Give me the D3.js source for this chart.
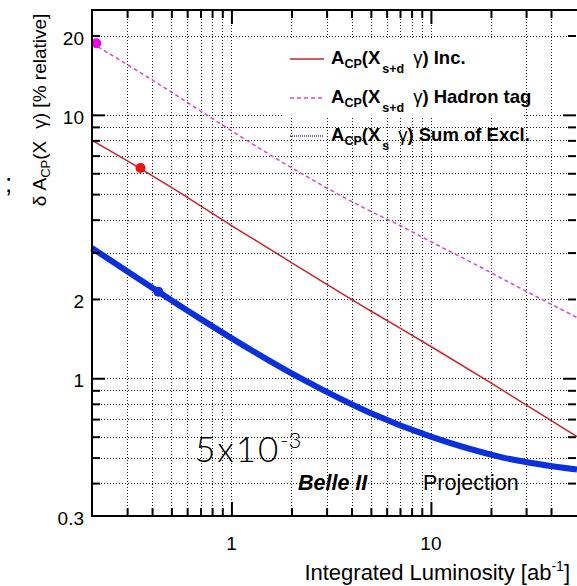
<!DOCTYPE html>
<html>
<head>
<meta charset="utf-8">
<script src="https://cdn.jsdelivr.net/npm/d3@7"></script>
<style>
  body { margin: 0; background: #fff; }
  #root { width: 577px; height: 586px; }
  text { font-family: "Liberation Sans", Arial, Helvetica, sans-serif; }
</style>
</head>
<body>
<div id="root"></div>
<script>
// A_CP(X_s+d gamma) inclusive
const incLumi = [0.2, 0.35, 0.5, 1, 2, 5, 10, 20, 54];
const incErr = [8.0, 6.25, 5.3, 3.8, 2.75, 1.8, 1.32, 0.96, 0.6];

// A_CP(X_s+d gamma) hadron tag
const tagLumi = [0.2, 0.5, 0.75, 1, 2, 5, 7, 10, 16, 28, 54];
const tagErr = [18.7, 12.2, 10, 8.7, 6.3, 4.3, 3.8, 3.3, 2.75, 2.2, 1.7];

// A_CP(X_s gamma) sum of exclusive
const exclLumi = [0.2, 0.3, 0.43, 0.7, 1, 2.28, 4.94, 10, 23, 54];
const exclErr = [3.12, 2.55, 2.13, 1.68, 1.42, 0.99, 0.74, 0.6, 0.5, 0.45];

// current-point markers
const markLumi = [0.21, 0.35, 0.43];
const markErr = [18.7, 6.28, 2.13];
const markColor = ['#ee00ee', '#ee1111', '#1030dd'];

const xMajor = [1, 10];
const xMinor = [0.3, 0.4, 0.5, 0.6, 0.7, 0.8, 0.9, 2, 3, 4, 5, 6, 7, 8, 9, 20, 30, 40];
const yMajor = [1, 10];
const yMinor = [0.4, 0.5, 0.6, 0.7, 0.8, 0.9, 2, 3, 4, 5, 6, 7, 8, 9, 20];
const yLabels = [0.3, 1, 2, 10, 20];
const xLabels = [1, 10];

const W = 577, H = 586;
const plotLeft = 92, plotRight = 577, plotTop = 10, plotBottom = 516;

const container = d3.select('#root');
const svg = container.append('svg')
  .attr('width', W)
  .attr('height', H);

const x = d3.scaleLog().domain([0.2, 54]).range([plotLeft, plotRight]);
const y = d3.scaleLog().domain([0.3, 25]).range([plotBottom, plotTop]);

// grid
const grid = svg.append('g')
  .attr('stroke', '#222')
  .attr('stroke-width', 1)
  .attr('stroke-dasharray', '1,2');

grid.selectAll('.gx')
  .data(xMajor.concat(xMinor))
  .enter()
  .append('line')
    .attr('class', 'gx')
    .attr('x1', (d) => Math.round(x(d)) + 0.5)
    .attr('x2', (d) => Math.round(x(d)) + 0.5)
    .attr('y1', plotTop)
    .attr('y2', plotBottom);

grid.selectAll('.gy')
  .data(yMajor.concat(yMinor))
  .enter()
  .append('line')
    .attr('class', 'gy')
    .attr('y1', (d) => Math.round(y(d)) + 0.5)
    .attr('y2', (d) => Math.round(y(d)) + 0.5)
    .attr('x1', plotLeft)
    .attr('x2', plotRight);

// legend background covering the grid
svg.append('rect')
  .attr('x', 284)
  .attr('y', 38)
  .attr('width', 240)
  .attr('height', 80)
  .attr('fill', '#fff');

// curves
const line = d3.line()
  .x((d) => x(d[0]))
  .y((d) => y(d[1]))
  .curve(d3.curveMonotoneX);

const plot = svg.append('g');

plot.append('path')
  .datum(d3.zip(tagLumi, tagErr))
  .attr('d', line)
  .attr('fill', 'none')
  .attr('stroke', '#d54ad5')
  .attr('stroke-width', 1.5)
  .attr('stroke-dasharray', '4,3');

plot.append('path')
  .datum(d3.zip(incLumi, incErr))
  .attr('d', line)
  .attr('fill', 'none')
  .attr('stroke', '#c4262b')
  .attr('stroke-width', 1.5);

plot.append('path')
  .datum(d3.zip(exclLumi, exclErr))
  .attr('d', line)
  .attr('fill', 'none')
  .attr('stroke', '#0a2fdc')
  .attr('stroke-width', 6);

plot.selectAll('.mark')
  .data(d3.zip(markLumi, markErr, markColor))
  .enter()
  .append('circle')
    .attr('class', 'mark')
    .attr('cx', (d) => x(d[0]))
    .attr('cy', (d) => y(d[1]))
    .attr('r', 5)
    .attr('fill', (d) => d[2]);

// axes, ticks pointing inward
function tickAxis(axis, values, size) {
  return axis.tickValues(values).tickSize(size).tickFormat('');
}

function styleAxis(g) {
  g.select('.domain').remove();
  g.selectAll('.tick line').attr('stroke', '#000').attr('stroke-width', 2);
}

svg.append('g').attr('transform', svgTranslateString(0, plotBottom))
  .call(tickAxis(d3.axisBottom(x), xMinor, -8)).call(styleAxis);
svg.append('g').attr('transform', svgTranslateString(0, plotBottom))
  .call(tickAxis(d3.axisBottom(x), xMajor, -14)).call(styleAxis);
svg.append('g').attr('transform', svgTranslateString(0, plotTop))
  .call(tickAxis(d3.axisTop(x), xMinor, -8)).call(styleAxis);
svg.append('g').attr('transform', svgTranslateString(0, plotTop))
  .call(tickAxis(d3.axisTop(x), xMajor, -14)).call(styleAxis);

svg.append('g').attr('transform', svgTranslateString(plotLeft, 0))
  .call(tickAxis(d3.axisLeft(y), yMinor, -8)).call(styleAxis);
svg.append('g').attr('transform', svgTranslateString(plotLeft, 0))
  .call(tickAxis(d3.axisLeft(y), yMajor, -13)).call(styleAxis);
svg.append('g').attr('transform', svgTranslateString(plotRight - 1, 0))
  .call(tickAxis(d3.axisRight(y), yMinor, -8)).call(styleAxis);
svg.append('g').attr('transform', svgTranslateString(plotRight - 1, 0))
  .call(tickAxis(d3.axisRight(y), yMajor, -13)).call(styleAxis);

// frame
svg.append('rect')
  .attr('x', plotLeft)
  .attr('y', plotTop)
  .attr('width', plotRight - plotLeft + 2)
  .attr('height', plotBottom - plotTop)
  .attr('fill', 'none')
  .attr('stroke', '#000')
  .attr('stroke-width', 2);

// tick labels
svg.append('g').selectAll('text')
  .data(xLabels)
  .enter()
  .append('text')
    .attr('x', (d) => x(d))
    .attr('y', 550)
    .attr('text-anchor', 'middle')
    .attr('font-size', 19)
    .text((d) => d);

svg.append('g').selectAll('text')
  .data(yLabels)
  .enter()
  .append('text')
    .attr('x', 84)
    .attr('y', (d) => y(d) + 9)
    .attr('text-anchor', 'end')
    .attr('font-size', 19)
    .text((d) => d);

// axis titles
const xt = svg.append('text')
  .attr('x', 570)
  .attr('y', 580)
  .attr('text-anchor', 'end')
  .attr('font-size', 22);
xt.append('tspan').text('Integrated Luminosity [ab');
xt.append('tspan').attr('font-size', 14).attr('dy', -9).text('-1');
xt.append('tspan').attr('dy', 9).text(']');

const yt = svg.append('text')
  .attr('transform', 'translate(46, 110) rotate(-90)')
  .attr('text-anchor', 'middle')
  .attr('font-size', 19);
yt.append('tspan').text('δ A');
yt.append('tspan').attr('font-size', 13).attr('dy', 4).text('CP');
yt.append('tspan').attr('dy', -4).text('(X');
yt.append('tspan').attr('dx', 12).text('γ) [% relative]');

// legend
const legendRows = [
  { sub: 's+d', rest: ') Inc.', color: '#c4262b', width: 1.5, dash: null, y: 64 },
  { sub: 's+d', rest: ') Hadron tag', color: '#d54ad5', width: 1.5, dash: '4,3', y: 103 },
  { sub: 's', rest: ') Sum of Excl.', color: '#6b6bd0', width: 2, dash: '1,1', y: 141 },
];

const legend = svg.append('g').selectAll('.entry')
  .data(legendRows)
  .enter()
  .append('g')
    .attr('class', 'entry');

legend.append('line')
  .attr('x1', 290)
  .attr('x2', 324)
  .attr('y1', (d) => d.y - 5)
  .attr('y2', (d) => d.y - 5)
  .attr('stroke', (d) => d.color)
  .attr('stroke-width', (d) => d.width)
  .attr('stroke-dasharray', (d) => d.dash);

legend.each(function(d) {
  const t = d3.select(this).append('text')
    .attr('x', 331)
    .attr('y', d.y)
    .attr('font-size', 18.5)
    .attr('font-weight', 'bold');
  t.append('tspan').text('A');
  t.append('tspan').attr('font-size', 12.5).attr('dy', 4).text('CP');
  t.append('tspan').attr('font-size', 18.5).attr('dy', -4).text('(X');
  t.append('tspan').attr('font-size', 12.5).attr('dx', 2).attr('dy', 9).text(d.sub);
  t.append('tspan').attr('font-weight', 'normal').attr('dx', 9).attr('dy', -9).text('γ');
  t.append('tspan').text(d.rest);
});

// annotations
svg.append('text')
  .attr('x', 298)
  .attr('y', 490)
  .attr('font-size', 21.5)
  .attr('font-weight', 'bold')
  .attr('font-style', 'italic')
  .text('Belle II');

svg.append('text')
  .attr('x', 423)
  .attr('y', 490)
  .attr('font-size', 21.5)
  .text('Projection');

const note = svg.append('text')
  .attr('x', 195)
  .attr('y', 462)
  .attr('font-size', 35)
  .attr('font-weight', 300)
  .attr('letter-spacing', 2)
  .style('font-family', 'Lato, "DejaVu Sans", sans-serif');
note.append('tspan').text('5x10');
note.append('tspan').attr('font-size', 22).attr('dy', -14).attr('letter-spacing', 0).text('-3');

svg.append('text')
  .attr('x', 5)
  .attr('y', 192)
  .attr('font-size', 26)
  .text(';');

function svgTranslateString(x, y) {
  return "translate(" + x + ", " + y + ")";
}
</script>
</body>
</html>
